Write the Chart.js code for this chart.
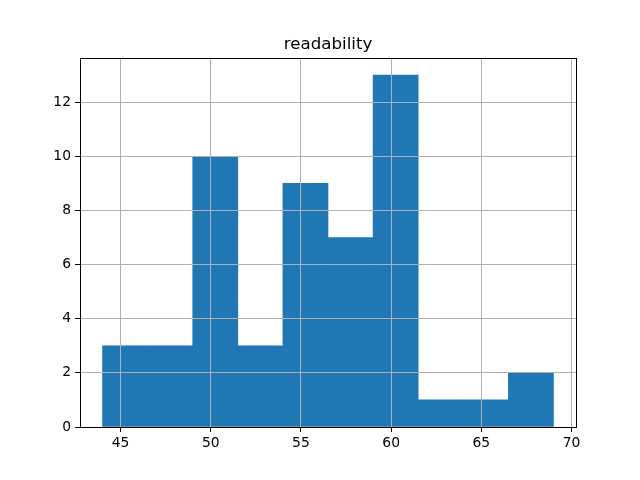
<!DOCTYPE html>
<html>
<head>
<meta charset="utf-8">
<script src="https://cdn.jsdelivr.net/npm/chart.js@4/dist/chart.umd.min.js"></script>
<style>
  html, body { margin: 0; padding: 0; background: #fff; }
  #wrap { width: 640px; height: 480px; }
</style>
</head>
<body>
<div id="wrap"><canvas id="hist" width="640" height="480"></canvas></div>
<script>
// --- Histogram data ---
const binEdges = [44, 46.5, 49, 51.5, 54, 56.5, 59, 61.5, 64, 66.5, 69];
const counts = [3, 3, 10, 3, 9, 7, 13, 1, 1, 2];
const xTicks = [45, 50, 55, 60, 65, 70];
const yTicks = [0, 2, 4, 6, 8, 10, 12];
const chartTitle = 'readability';

const points = counts.map((c, i) => ({ x: (binEdges[i] + binEdges[i + 1]) / 2, y: c }));
const span = binEdges[binEdges.length - 1] - binEdges[0];
const xMin = binEdges[0] - span * 0.05;
const xMax = binEdges[binEdges.length - 1] + span * 0.05;
const yMax = Math.max(...counts) * 1.05;

const FONT = 'DejaVu Sans';

// draw the four spines around the plot area
const frame = {
  id: 'frame',
  afterDraw(chart) {
    const { ctx, chartArea: a } = chart;
    ctx.save();
    ctx.strokeStyle = '#000';
    ctx.lineWidth = 1;
    ctx.strokeRect(Math.round(a.left) + 0.5, Math.round(a.top) + 0.5,
      Math.round(a.right - a.left), Math.round(a.bottom - a.top));
    ctx.restore();
  }
};

const ctx = document.getElementById('hist').getContext('2d');
new Chart(ctx, {
  type: 'bar',
  data: {
    datasets: [{
      data: points,
      backgroundColor: '#1f77b4',
      borderWidth: 0,
      barPercentage: 1,
      categoryPercentage: 1,
    }]
  },
  options: {
    responsive: false,
    animation: false,
    layout: { padding: { left: 0, right: 64, top: 0, bottom: 0 } },
    plugins: {
      legend: { display: false },
      tooltip: { enabled: false },
      title: {
        display: true,
        text: chartTitle,
        color: '#000',
        fullSize: false,
        font: { family: FONT, size: 16.67, weight: 'normal' },
        padding: { top: 35, bottom: 2.6 },
      }
    },
    scales: {
      x: {
        type: 'linear',
        min: xMin,
        max: xMax,
        offset: false,
        afterFit(s) { s.height = 53; },
        afterBuildTicks(s) { s.ticks = xTicks.map(v => ({ value: v })); },
        ticks: { color: '#000', font: { family: FONT, size: 13.89 }, padding: 3, maxRotation: 0 },
        // grid sits on top of the bars, like the pandas hist
        grid: { z: 1, color: '#b0b0b0', lineWidth: 1, tickColor: '#000', tickLength: 5, offset: false },
        border: { display: false },
      },
      y: {
        min: 0,
        max: yMax,
        afterFit(s) { s.width = 80; },
        afterBuildTicks(s) { s.ticks = yTicks.map(v => ({ value: v })); },
        ticks: { color: '#000', font: { family: FONT, size: 13.89 }, padding: 4 },
        grid: { z: 1, color: '#b0b0b0', lineWidth: 1, tickColor: '#000', tickLength: 5 },
        border: { display: false },
      }
    }
  },
  plugins: [frame]
});
</script>
</body>
</html>
